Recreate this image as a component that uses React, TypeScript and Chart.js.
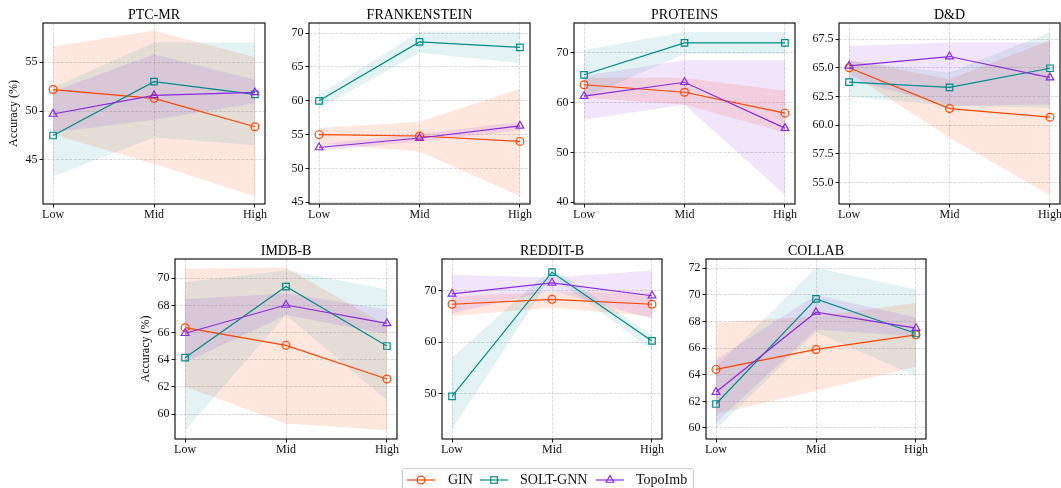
import React, { useEffect, useRef } from 'react';
import { Chart, registerables } from 'chart.js';

Chart.register(...registerables);

// ---------- data ----------
const categories = ['Low', 'Mid', 'High'];
const methods = ['GIN', 'SOLT-GNN', 'TopoImb'];

// PTC-MR
const ptcTicks = [45, 50, 55];
const ptcGin = [52.2, 51.3, 48.4];
const ptcGinLo = [47.6, 44.6, 41.3];
const ptcGinHi = [56.6, 58.2, 55.5];
const ptcSolt = [47.5, 53.0, 51.7];
const ptcSoltLo = [43.3, 47.3, 46.5];
const ptcSoltHi = [52.4, 57.0, 57.0];
const ptcTopo = [49.7, 51.6, 51.9];
const ptcTopoLo = [47.8, 49.1, 50.8];
const ptcTopoHi = [52.0, 55.8, 53.2];

// FRANKENSTEIN
const frkTicks = [45, 50, 55, 60, 65, 70];
const frkGin = [55.0, 54.8, 54.0];
const frkGinLo = [53.7, 52.5, 45.9];
const frkGinHi = [56.0, 56.9, 61.8];
const frkSolt = [60.0, 68.7, 67.9];
const frkSoltLo = [58.9, 67.1, 65.6];
const frkSoltHi = [60.9, 70.2, 70.2];
const frkTopo = [53.1, 54.5, 56.3];
const frkTopoLo = [52.6, 54.0, 55.6];
const frkTopoHi = [53.6, 55.1, 56.9];

// PROTEINS
const proTicks = [40, 50, 60, 70];
const proGin = [63.6, 62.1, 57.9];
const proGinLo = [61.0, 59.6, 54.0];
const proGinHi = [65.0, 65.0, 62.4];
const proSolt = [65.6, 72.0, 72.0];
const proSoltLo = [61.0, 69.8, 69.8];
const proSoltHi = [70.6, 74.2, 74.2];
const proTopo = [61.3, 64.1, 54.9];
const proTopoLo = [56.6, 59.6, 41.5];
const proTopoHi = [65.4, 68.5, 68.5];

// D&D
const ddTicks = [55, 57.5, 60, 62.5, 65, 67.5];
const ddGin = [65.0, 61.45, 60.7];
const ddGinLo = [64.6, 58.9, 53.9];
const ddGinHi = [65.7, 64.0, 67.4];
const ddSolt = [63.76, 63.3, 64.96];
const ddSoltLo = [62.5, 61.7, 61.5];
const ddSoltHi = [65.6, 64.6, 68.1];
const ddTopo = [65.16, 65.98, 64.14];
const ddTopoLo = [64.0, 61.7, 61.8];
const ddTopoHi = [66.9, 67.2, 67.2];

// IMDB-B
const imdbTicks = [60, 62, 64, 66, 68, 70];
const imdbGin = [66.36, 65.06, 62.58];
const imdbGinLo = [62.0, 59.3, 58.8];
const imdbGinHi = [70.7, 70.8, 66.5];
const imdbSolt = [64.15, 69.39, 65.01];
const imdbSoltLo = [58.8, 67.3, 61.0];
const imdbSoltHi = [69.7, 70.6, 69.2];
const imdbTopo = [65.95, 68.03, 66.68];
const imdbTopoLo = [63.8, 67.3, 65.9];
const imdbTopoHi = [68.45, 68.9, 67.7];

// REDDIT-B
const redTicks = [50, 60, 70];
const redGin = [67.35, 68.3, 67.35];
const redGinLo = [65.1, 66.7, 65.0];
const redGinHi = [68.8, 69.8, 69.5];
const redSolt = [49.55, 73.55, 60.26];
const redSoltLo = [43.2, 72.7, 58.5];
const redSoltHi = [57.0, 74.3, 61.4];
const redTopo = [69.35, 71.5, 69.0];
const redTopoLo = [65.6, 70.0, 64.5];
const redTopoHi = [73.0, 72.5, 73.9];

// COLLAB
const colTicks = [60, 62, 64, 66, 68, 70, 72];
const colGin = [64.4, 65.9, 67.0];
const colGinLo = [61.05, 62.8, 64.6];
const colGinHi = [67.9, 68.4, 69.4];
const colSolt = [61.8, 69.7, 67.1];
const colSoltLo = [59.9, 67.2, 63.9];
const colSoltHi = [64.6, 72.05, 70.4];
const colTopo = [62.7, 68.7, 67.5];
const colTopoLo = [60.4, 67.4, 66.9];
const colTopoHi = [65.15, 70.0, 68.3];

// ---------- styles / layout ----------
const COLORS = ['#FF4500', '#008B8B', '#8A2BE2'];
const BANDS = ['rgba(255,69,0,0.13)', 'rgba(0,139,139,0.11)', 'rgba(138,43,226,0.12)'];
const POINT_STYLES = ['circle', 'rect', 'triangle'];
const POINT_RADII = [3.9, 4.6, 4.5];
const FONT_FAMILY = '"Liberation Serif", "Times New Roman", Times, serif';

type PanelDef = {
  title: string;
  ylabel?: string;
  box: [number, number, number, number]; // left, top, right, bottom
  canvasTop: number;
  yMin: number;
  yMax: number;
  ticks: number[];
  decimals: number;
  mean: number[][];
  lo: number[][];
  hi: number[][];
};

const panels: PanelDef[] = [
  { title: 'PTC-MR', ylabel: 'Accuracy (%)', box: [43, 23, 265, 204], canvasTop: 0, yMin: 40.5, yMax: 59.0, ticks: ptcTicks, decimals: 0,
    mean: [ptcGin, ptcSolt, ptcTopo], lo: [ptcGinLo, ptcSoltLo, ptcTopoLo], hi: [ptcGinHi, ptcSoltHi, ptcTopoHi] },
  { title: 'FRANKENSTEIN', box: [309, 23, 530, 204], canvasTop: 0, yMin: 44.75, yMax: 71.5, ticks: frkTicks, decimals: 0,
    mean: [frkGin, frkSolt, frkTopo], lo: [frkGinLo, frkSoltLo, frkTopoLo], hi: [frkGinHi, frkSoltHi, frkTopoHi] },
  { title: 'PROTEINS', box: [574, 23, 795, 204], canvasTop: 0, yMin: 39.66, yMax: 76.0, ticks: proTicks, decimals: 0,
    mean: [proGin, proSolt, proTopo], lo: [proGinLo, proSoltLo, proTopoLo], hi: [proGinHi, proSoltHi, proTopoHi] },
  { title: 'D&D', box: [839, 23, 1060, 204], canvasTop: 0, yMin: 53.14, yMax: 68.9, ticks: ddTicks, decimals: 1,
    mean: [ddGin, ddSolt, ddTopo], lo: [ddGinLo, ddSoltLo, ddTopoLo], hi: [ddGinHi, ddSoltHi, ddTopoHi] },
  { title: 'IMDB-B', ylabel: 'Accuracy (%)', box: [175, 259, 397, 439], canvasTop: 235, yMin: 58.16, yMax: 71.42, ticks: imdbTicks, decimals: 0,
    mean: [imdbGin, imdbSolt, imdbTopo], lo: [imdbGinLo, imdbSoltLo, imdbTopoLo], hi: [imdbGinHi, imdbSoltHi, imdbTopoHi] },
  { title: 'REDDIT-B', box: [442, 259, 662, 439], canvasTop: 235, yMin: 41.3, yMax: 76.1, ticks: redTicks, decimals: 0,
    mean: [redGin, redSolt, redTopo], lo: [redGinLo, redSoltLo, redTopoLo], hi: [redGinHi, redSoltHi, redTopoHi] },
  { title: 'COLLAB', box: [706, 259, 926, 439], canvasTop: 235, yMin: 59.17, yMax: 72.7, ticks: colTicks, decimals: 0,
    mean: [colGin, colSolt, colTopo], lo: [colGinLo, colSoltLo, colTopoLo], hi: [colGinHi, colSoltHi, colTopoHi] },
];

const X_AXIS_H = 28;
const PAD_RIGHT = 12;

const decorPlugin = {
  id: 'decor',
  afterDraw(chart: any, _args: any, opts: any) {
    const { ctx, chartArea: a } = chart;
    ctx.save();
    ctx.strokeStyle = '#000';
    ctx.lineWidth = 1.1;
    ctx.strokeRect(a.left, a.top, a.right - a.left, a.bottom - a.top);
    ctx.fillStyle = '#000';
    ctx.font = `14px ${FONT_FAMILY}`;
    ctx.textAlign = 'center';
    ctx.textBaseline = 'middle';
    ctx.fillText(opts.title, (a.left + a.right) / 2, a.top - 8);
    if (opts.ylabel) {
      ctx.font = `12px ${FONT_FAMILY}`;
      ctx.translate(a.left - 29, (a.top + a.bottom) / 2);
      ctx.rotate(-Math.PI / 2);
      ctx.fillText(opts.ylabel, 0, 0);
    }
    ctx.restore();
  },
};

const toPts = (arr: number[]) => arr.map((y, i) => ({ x: i, y }));

function buildConfig(p: PanelDef, yw: number, padTop: number): any {
  const datasets: any[] = [];
  for (let k = 0; k < 3; k++) {
    datasets.push({
      label: methods[k] + ' lo',
      data: toPts(p.lo[k]),
      borderWidth: 0,
      pointRadius: 0,
      fill: false,
      backgroundColor: 'rgba(0,0,0,0)',
      borderColor: 'rgba(0,0,0,0)',
      order: 20,
    });
    datasets.push({
      label: methods[k] + ' band',
      data: toPts(p.hi[k]),
      borderWidth: 0,
      pointRadius: 0,
      fill: '-1',
      backgroundColor: BANDS[k],
      borderColor: 'rgba(0,0,0,0)',
      order: 6 - k,
    });
  }
  for (let k = 0; k < 3; k++) {
    datasets.push({
      label: methods[k],
      data: toPts(p.mean[k]),
      borderColor: COLORS[k],
      borderWidth: 1.2,
      fill: false,
      tension: 0,
      pointStyle: POINT_STYLES[k],
      pointRadius: POINT_RADII[k],
      pointBorderColor: COLORS[k],
      pointBackgroundColor: 'rgba(0,0,0,0)',
      pointBorderWidth: 1.2,
      order: 3 - k,
    });
  }
  const gridCommon = {
    color: 'rgba(176,176,176,0.6)',
    lineWidth: 0.8,
    tickLength: 3.5,
    tickColor: '#000',
    tickWidth: 0.9,
  };
  const tickFont = { family: FONT_FAMILY, size: 12 };
  return {
    type: 'line',
    data: { datasets },
    options: {
      animation: false,
      responsive: false,
      maintainAspectRatio: false,
      events: [],
      layout: { padding: { top: padTop, right: PAD_RIGHT, bottom: 0, left: 0 } },
      plugins: {
        legend: { display: false },
        tooltip: { enabled: false },
        title: { display: false },
        decor: { title: p.title, ylabel: p.ylabel },
      },
      scales: {
        x: {
          type: 'linear',
          min: -0.1,
          max: 2.1,
          bounds: 'data',
          afterBuildTicks: (s: any) => {
            s.ticks = categories.map((_, i) => ({ value: i }));
          },
          afterFit: (s: any) => {
            s.height = X_AXIS_H;
          },
          ticks: {
            autoSkip: false,
            maxRotation: 0,
            padding: 0,
            color: '#111',
            font: tickFont,
            callback: (v: any) => categories[Math.round(Number(v))],
          },
          grid: gridCommon,
          border: { display: false, dash: [3, 1.4] },
        },
        y: {
          type: 'linear',
          min: p.yMin,
          max: p.yMax,
          bounds: 'data',
          afterBuildTicks: (s: any) => {
            s.ticks = p.ticks.map((v) => ({ value: v }));
          },
          afterFit: (s: any) => {
            s.width = yw;
          },
          ticks: {
            autoSkip: false,
            padding: 2,
            color: '#111',
            font: tickFont,
            callback: (v: any) => Number(v).toFixed(p.decimals),
          },
          grid: gridCommon,
          border: { display: false, dash: [3, 1.4] },
        },
      },
    },
    plugins: [decorPlugin],
  };
}

function Panel({ p }: { p: PanelDef }) {
  const ref = useRef<HTMLCanvasElement | null>(null);
  const [l, t, r, b] = p.box;
  const yw = Math.min(45, l);
  const padTop = t - p.canvasTop;
  const left = l - yw;
  const width = yw + (r - l) + PAD_RIGHT;
  const height = padTop + (b - t) + X_AXIS_H;
  useEffect(() => {
    if (!ref.current) return;
    const chart = new Chart(ref.current, buildConfig(p, yw, padTop));
    return () => chart.destroy();
  }, []);
  return (
    <canvas
      ref={ref}
      width={width}
      height={height}
      style={{ position: 'absolute', left, top: p.canvasTop, width, height }}
    />
  );
}

function LegendGlyph({ k }: { k: number }) {
  const c = COLORS[k];
  let marker: any;
  if (k === 0) marker = <circle cx={14} cy={10} r={3.9} fill="none" stroke={c} strokeWidth={1.2} />;
  else if (k === 1) marker = <rect x={14 - 3.25} y={10 - 3.25} width={6.5} height={6.5} fill="none" stroke={c} strokeWidth={1.2} />;
  else marker = <polygon points="14,5.5 17.9,12.25 10.1,12.25" fill="none" stroke={c} strokeWidth={1.2} />;
  return (
    <svg width={28} height={20} style={{ display: 'block' }}>
      <line x1={0} y1={10} x2={28} y2={10} stroke={c} strokeWidth={1.2} />
      {marker}
    </svg>
  );
}

const legendGlyphX = [407, 480, 596];
const legendTextX = [448, 520, 636];

export default function App() {
  return (
    <div
      style={{
        position: 'absolute',
        left: 0,
        top: 0,
        width: 1061,
        height: 488,
        overflow: 'hidden',
        background: '#fff',
      }}
    >
      {panels.map((p) => (
        <Panel key={p.title} p={p} />
      ))}
      <div
        style={{
          position: 'absolute',
          left: 402,
          top: 468,
          width: 292,
          height: 32,
          border: '1px solid #cccccc',
          borderRadius: 3,
          boxSizing: 'border-box',
          background: 'rgba(255,255,255,0.8)',
        }}
      />
      {methods.map((m, k) => (
        <React.Fragment key={m}>
          <div style={{ position: 'absolute', left: legendGlyphX[k], top: 469.5 }}>
            <LegendGlyph k={k} />
          </div>
          <div
            style={{
              position: 'absolute',
              left: legendTextX[k],
              top: 469.5,
              height: 20,
              lineHeight: '20px',
              fontFamily: FONT_FAMILY,
              fontSize: 14,
              color: '#111',
              whiteSpace: 'nowrap',
            }}
          >
            {m}
          </div>
        </React.Fragment>
      ))}
    </div>
  );
}
